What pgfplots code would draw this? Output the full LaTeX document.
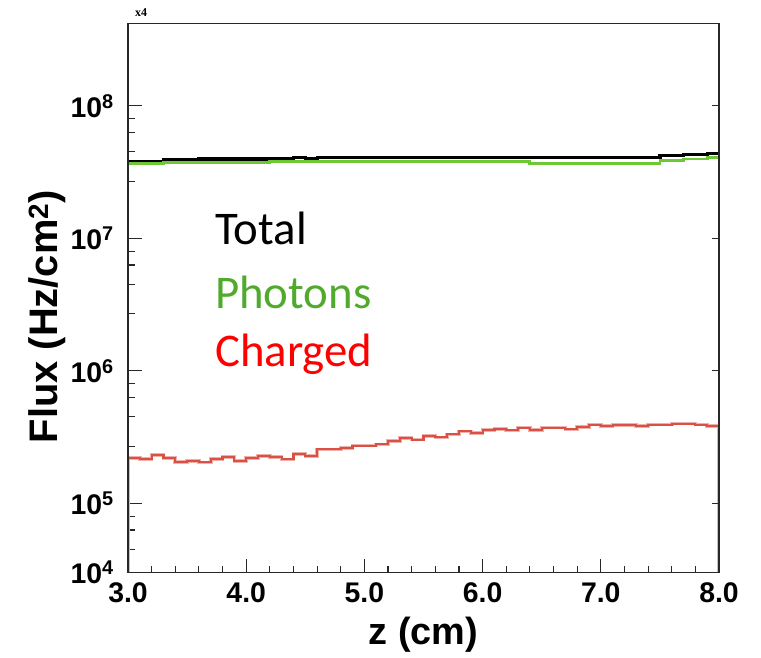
\documentclass[border=0pt]{standalone}
\usepackage{fontspec}
\setmainfont{Liberation Sans}
\newfontfamily\legendfont{Carlito}
\newfontfamily\serifbf{Liberation Serif}
\usepackage{pgfplots}
\usepackage{pgfplotstable}
\pgfplotsset{compat=1.18}

\definecolor{phocol}{RGB}{108,200,52}
\definecolor{chgcol}{RGB}{218,80,68}
\definecolor{photext}{RGB}{80,170,45}
\definecolor{chgtext}{RGB}{255,0,0}
\definecolor{axcol}{RGB}{40,40,40}

% Histograms: left bin edge and bin content (bins of 0.1 cm).
% The total is drawn as its top outline only; the photon and charged
% histograms are closed down to the axis floor at both ends.
\pgfplotstableread{
z flux
3.0 3.80e7
3.3 3.91e7
3.6 3.98e7
4.2 4.03e7
4.4 4.10e7
4.5 4.00e7
4.6 4.10e7
7.5 4.22e7
7.7 4.29e7
7.9 4.40e7
8.0 4.40e7
}\total

\pgfplotstableread{
z flux
3.0 3e4
3.0 3.65e7
3.3 3.73e7
4.2 3.80e7
6.4 3.69e7
7.5 3.87e7
7.7 3.98e7
7.9 4.05e7
8.0 4.05e7
8.0 3e4
}\photons

\pgfplotstableread{
z flux
3.0 3e4
3.0 2.21e5
3.1 2.16e5
3.2 2.32e5
3.3 2.19e5
3.4 2.06e5
3.5 2.10e5
3.6 2.04e5
3.7 2.16e5
3.8 2.23e5
3.9 2.10e5
4.0 2.19e5
4.1 2.28e5
4.2 2.23e5
4.3 2.15e5
4.4 2.37e5
4.5 2.29e5
4.6 2.56e5
4.7 2.56e5
4.8 2.62e5
4.9 2.73e5
5.0 2.73e5
5.1 2.79e5
5.2 2.96e5
5.3 3.10e5
5.4 3.03e5
5.5 3.24e5
5.6 3.15e5
5.7 3.32e5
5.8 3.50e5
5.9 3.40e5
6.0 3.58e5
6.1 3.65e5
6.2 3.56e5
6.3 3.73e5
6.4 3.58e5
6.5 3.73e5
6.6 3.73e5
6.7 3.62e5
6.8 3.79e5
6.9 3.93e5
7.0 3.84e5
7.1 3.91e5
7.2 3.91e5
7.3 3.82e5
7.4 3.93e5
7.5 3.93e5
7.6 4.00e5
7.7 4.00e5
7.8 3.93e5
7.9 3.84e5
8.0 3.84e5
8.0 3e4
}\charged

\begin{document}
\begin{tikzpicture}
\begin{axis}[
  at={(0,0)}, anchor=south west,
  scale only axis, width=591bp, height=549.4bp,
  xmin=3, xmax=8, ymin=3e4, ymax=4.2e8, ymode=log,
  axis line style={axcol, line width=1.2bp},
  every tick/.style={axcol, line width=1.1bp},
  xtick={3,4,5,6,7,8},
  xticklabels={3.0,4.0,5.0,6.0,7.0,8.0},
  minor x tick num=4,
  ytick={3e4,1e5,1e6,1e7,1e8},
  yticklabels={{10\textsuperscript{4}},{10\textsuperscript{5}},{10\textsuperscript{6}},{10\textsuperscript{7}},{10\textsuperscript{8}}},
  minor ytick={4.5e4,6.3e4,8e4,2.7e5,4.5e5,6.3e5,8e5,2.7e6,4.5e6,6.3e6,8e6,2.7e7,4.5e7,6.3e7,8e7},
  xtick pos=bottom, ytick pos=left,
  major tick length=14bp, minor tick length=7bp,
  tick label style={font=\bfseries\fontsize{28.5}{32}\selectfont},
  xticklabel style={anchor=north, inner sep=0pt, yshift=-10bp},
  yticklabel style={anchor=east, inner sep=0pt, xshift=-14bp},
  xlabel={z (cm)},
  ylabel={Flux (Hz/cm\textsuperscript{2})},
  every axis x label/.style={at={(rel axis cs:0.5,0)}, anchor=center, yshift=-62bp,
    font=\bfseries\fontsize{38}{44}\selectfont},
  every axis y label/.style={at={(rel axis cs:0,0.466)}, xshift=-81bp, rotate=90, anchor=center,
    font=\bfseries\fontsize{40}{46}\selectfont},
]
\addplot[const plot mark left, black, line width=3.2bp] table[x=z, y=flux] {\total};
\addplot[const plot mark left, phocol, line width=2.8bp] table[x=z, y=flux] {\photons};
\addplot[const plot mark left, chgcol!45, line width=3.6bp] table[x=z, y=flux] {\charged};
\addplot[const plot mark left, chgcol, line width=2.2bp] table[x=z, y=flux] {\charged};
\end{axis}

% right-hand frame ticks at the decades
\begin{axis}[
  at={(0,0)}, anchor=south west,
  scale only axis, width=591bp, height=549.4bp,
  xmin=3, xmax=8, ymin=3e4, ymax=4.2e8, ymode=log,
  axis line style={axcol, line width=1.2bp},
  every tick/.style={axcol, line width=1.1bp},
  xtick=\empty,
  ytick={1e5,1e6,1e7,1e8},
  yticklabels={},
  yminorticks=false,
  ytick pos=right,
  major tick length=7bp,
]
\end{axis}

\node[anchor=base west, inner sep=0pt, font=\serifbf\bfseries\fontsize{12}{14}\selectfont] at (7bp,555.7bp) {x4};

\node[anchor=base west, inner sep=0pt, font=\legendfont\fontsize{47}{56}\selectfont, text=black] at (87bp,327.7bp) {Total};
\node[anchor=base west, inner sep=0pt, font=\legendfont\fontsize{47}{56}\selectfont, text=photext] at (87bp,264.5bp) {Photons};
\node[anchor=base west, inner sep=0pt, font=\legendfont\fontsize{47}{56}\selectfont, text=chgtext] at (87bp,206bp) {Charged};

\pgfresetboundingbox
\useasboundingbox (-128bp,-85.3bp) rectangle (633bp,572.7bp);
\end{tikzpicture}
\end{document}
